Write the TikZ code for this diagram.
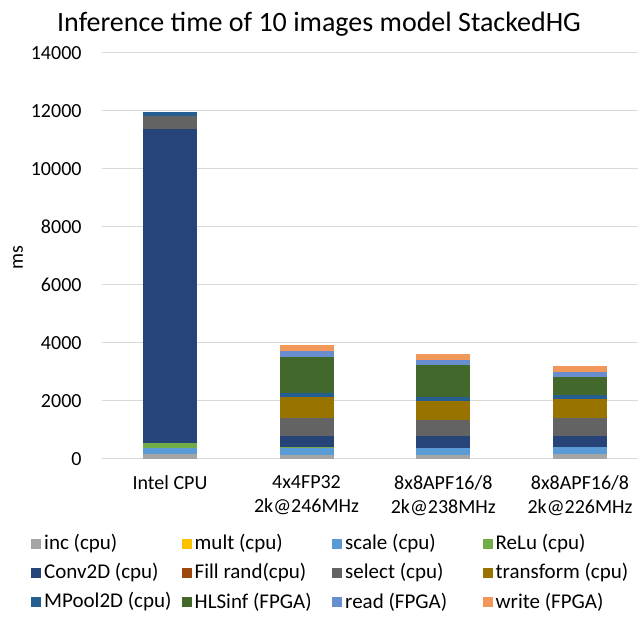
\documentclass[tikz,border=0pt]{standalone}
\usepackage{fontspec}
\setmainfont{Carlito}
\usepackage{xcolor}
\usepackage{tikz}
\usetikzlibrary{positioning}
% series colours
\definecolor{cinc}{HTML}{A5A5A5}
\definecolor{cmult}{HTML}{FFC000}
\definecolor{cscale}{HTML}{5B9BD5}
\definecolor{crelu}{HTML}{70AD47}
\definecolor{cconv}{HTML}{264478}
\definecolor{cfill}{HTML}{9E480E}
\definecolor{csel}{HTML}{636363}
\definecolor{ctrans}{HTML}{997300}
\definecolor{cpool}{HTML}{255E91}
\definecolor{chls}{HTML}{43682B}
\definecolor{cread}{HTML}{698ED0}
\definecolor{cwrite}{HTML}{F1975A}
\definecolor{gridc}{HTML}{D9D9D9}
\tikzset{
  ticklab/.style={anchor=east,inner sep=0pt},
  catlab/.style={anchor=north,align=center,inner sep=0pt},
  leglab/.style={anchor=west,inner sep=0pt,font=\fontsize{21}{24}\selectfont}
}
\begin{document}
\begin{tikzpicture}[x=1pt,y=1pt,font=\fontsize{20}{24}\selectfont]
\useasboundingbox (0,0) rectangle (638,619);
\node (title) at (319,595) {\fontsize{28}{32}\selectfont Inference time of 10 images model StackedHG};
\node[rotate=90] (ylab) at (18,361) {ms};
\begin{scope}[shift={(101.7,160)},x=136.7pt,y=0.029pt]
\foreach \v in {0,2000,...,14000} {
  \draw[gridc,line width=1pt] (0,\v) -- (3.93,\v);
  \node[ticklab] (t\v) at (-0.146,\v) {\v};
}
% stacked bars, bottom to top
\foreach \i/\segs in {
  1/{173/cinc,197/cscale,173/crelu,10830/cconv,439/csel,138/cpool},
  2/{149/cinc,236/cscale,20/crelu,391/cconv,622/csel,715/ctrans,138/cpool,1231/chls,221/cread,194/cwrite},
  3/{149/cinc,230/cscale,403/cconv,565/csel,657/ctrans,149/cpool,1085/chls,184/cread,207/cwrite},
  4/{184/cinc,231/cscale,380/cconv,611/csel,668/ctrans,128/cpool,609/chls,196/cread,196/cwrite}} {
  \foreach \v/\c [evaluate=\v as \tip using \base+\v, remember=\tip as \base (initially 0)] in \segs
    \fill[\c] ({\i-0.5-0.1975},\base) rectangle ({\i-0.5+0.1975},\tip);
}
\end{scope}
% category labels
\node[catlab] (c1) at (170,144) {Intel CPU};
\node[catlab] (c2) at (306.5,144) {4x4FP32\\2k@246MHz};
\node[catlab] (c3) at (443.3,144) {8x8APF16/8\\2k@238MHz};
\node[catlab] (c4) at (580,144) {8x8APF16/8\\2k@226MHz};
% legend
\foreach \lab/\col [count=\k from 0] in {inc (cpu)/cinc,mult (cpu)/cmult,scale (cpu)/cscale,ReLu (cpu)/crelu,
  Conv2D (cpu)/cconv,Fill rand(cpu)/cfill,select (cpu)/csel,transform (cpu)/ctrans,
  MPool2D (cpu)/cpool,HLSinf (FPGA)/chls,read (FPGA)/cread,write (FPGA)/cwrite} {
  \pgfmathsetmacro\lx{31+150.5*mod(\k,4)}
  \pgfmathsetmacro\ly{75-29*int(\k/4)}
  \fill[\col] (\lx,\ly-5) rectangle ++(10,10);
  \node[leglab] (leg\k) at (\lx+13,\ly) {\lab};
}
\end{tikzpicture}
\end{document}
